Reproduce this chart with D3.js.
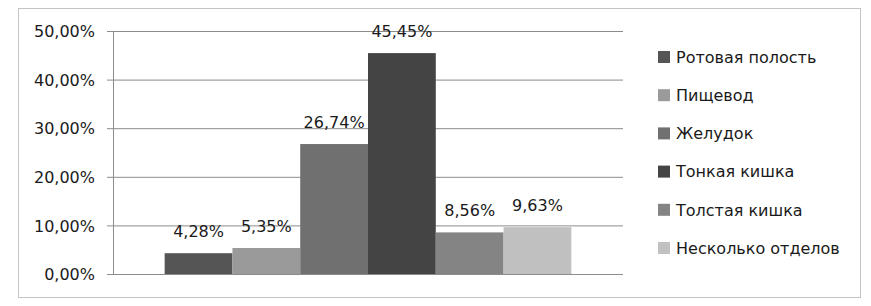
<!DOCTYPE html>
<html>
<head>
<meta charset="utf-8">
<script src="https://cdn.jsdelivr.net/npm/d3@7"></script>
<style>
  body { margin: 0; background: #fff; }
  svg text { font-family: "DejaVu Sans", sans-serif; fill: #1a1a1a; }
</style>
</head>
<body>
<div id="chart"></div>
<script>
// data
var categories = ["Ротовая полость", "Пищевод", "Желудок", "Тонкая кишка", "Толстая кишка", "Несколько отделов"];
var values = [4.28, 5.35, 26.74, 45.45, 8.56, 9.63];
var colors = ["#555555", "#9a9a9a", "#707070", "#444444", "#848484", "#c0c0c0"];
var yTicks = [0, 10, 20, 30, 40, 50];

var W = 871, H = 306;
var plot = { left: 113, right: 623, top: 31, bottom: 274 };

var svg = d3.select("#chart")
    .append("svg")
    .attr("width", W)
    .attr("height", H);

// outer frame
svg.append("rect")
    .attr("x", 18.5).attr("y", 8.5)
    .attr("width", 842).attr("height", 289)
    .attr("fill", "none")
    .attr("stroke", "#c4c4c4")
    .attr("stroke-width", 1);

var y = d3.scaleLinear()
    .domain([0, 50])
    .range([plot.bottom, plot.top]);

// one category group, bars side by side (Excel gap width ~150%)
var outer = d3.scaleBand()
    .domain(["g"])
    .range([plot.left, plot.right])
    .paddingInner(0)
    .paddingOuter(0.127);

var x = d3.scaleBand()
    .domain(categories)
    .range([outer("g"), outer("g") + outer.bandwidth()])
    .padding(0);

var fmt = function (v) { return d3.format(".2f")(v).replace(".", ",") + "%"; };

// gridlines + axis
var yAxis = d3.axisLeft(y)
    .tickValues(yTicks)
    .tickSize(-(plot.right - plot.left))
    .tickFormat(fmt);

var ga = svg.append("g")
    .attr("transform", "translate(" + plot.left + ",0)")
    .call(yAxis);
ga.select(".domain").remove();
ga.selectAll(".tick line")
    .attr("stroke", "#8c8c8c")
    .attr("x1", -6);
ga.selectAll(".tick text")
    .attr("x", -18)
    .attr("dy", "0.36em")
    .style("font-size", "16px");

svg.append("line")
    .attr("x1", plot.left + 0.5).attr("x2", plot.left + 0.5)
    .attr("y1", plot.top).attr("y2", plot.bottom)
    .attr("stroke", "#8c8c8c");

// bars
svg.append("g")
    .selectAll("rect")
    .data(categories)
    .enter()
    .append("rect")
    .attr("x", function (d) { return x(d); })
    .attr("y", function (d, i) { return y(values[i]); })
    .attr("width", x.bandwidth())
    .attr("height", function (d, i) { return y(0) - y(values[i]); })
    .attr("fill", function (d, i) { return colors[i]; });

// value labels
svg.append("g")
    .selectAll("text")
    .data(categories)
    .enter()
    .append("text")
    .attr("x", function (d) { return x(d) + x.bandwidth() / 2; })
    .attr("y", function (d, i) { return y(values[i]) - 16; })
    .attr("text-anchor", "middle")
    .style("font-size", "16px")
    .text(function (d, i) { return fmt(values[i]); });

// legend
var leg = svg.append("g")
    .attr("transform", "translate(658,57)");
var items = leg.selectAll("g")
    .data(categories)
    .enter()
    .append("g")
    .attr("transform", function (d, i) { return "translate(0," + (i * 38.2) + ")"; });
items.append("rect")
    .attr("x", 0).attr("y", -6)
    .attr("width", 12).attr("height", 12)
    .attr("fill", function (d, i) { return colors[i]; });
items.append("text")
    .attr("x", 18)
    .attr("dy", "0.36em")
    .style("font-size", "16px")
    .text(function (d) { return d; });
</script>
</body>
</html>
